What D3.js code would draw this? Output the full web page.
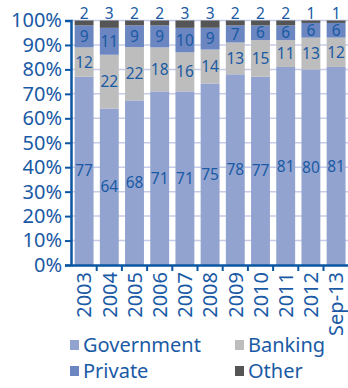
<!DOCTYPE html>
<html>
<head>
<meta charset="utf-8">
<script src="https://cdn.jsdelivr.net/npm/d3@7"></script>
<style>
  body { margin: 0; background: #fff; }
  svg text { font-family: "Noto Sans", "Open Sans", sans-serif; fill: #1a5aa5; }
</style>
</head>
<body>
<div id="chart"></div>
<script>
const years = ["2003", "2004", "2005", "2006", "2007", "2008", "2009", "2010", "2011", "2012", "Sep-13"]
const government = [77, 64, 68, 71, 71, 75, 78, 77, 81, 80, 81]
const banking = [12, 22, 22, 18, 16, 14, 13, 15, 11, 13, 12]
const privateSector = [9, 11, 9, 9, 10, 9, 7, 6, 6, 6, 6]
const other = [2, 3, 2, 2, 3, 3, 2, 2, 2, 1, 1]
const seriesNames = ["Government", "Banking", "Private", "Other"]
const yTicks = [0, 10, 20, 30, 40, 50, 60, 70, 80, 90, 100]

const width = 348
const height = 388
const colors = ["#93a3cf", "#bdbdbd", "#6b86c0", "#555555"]
const axisColor = "#0b56a3"

const data = years.map((y, i) => ({
  year: y,
  Government: government[i],
  Banking: banking[i],
  Private: privateSector[i],
  Other: other[i]
}))

const series = d3.stack()
  .keys(seriesNames)
  .offset(d3.stackOffsetExpand)(data)

const svg = d3.select("#chart")
  .append("svg")
  .attr("width", width)
  .attr("height", height)

const x = d3.scaleBand()
  .domain(years)
  .range([71.5, 348.7])
  .paddingInner(0.25)
  .paddingOuter(0.125)

const y = d3.scaleLinear()
  .domain([0, 1])
  .range([265, 20.5])

// gridlines
svg.append("g")
  .selectAll("line")
  .data(yTicks.slice(1))
  .join("line")
    .attr("x1", 71)
    .attr("x2", width)
    .attr("y1", d => y(d / 100))
    .attr("y2", d => y(d / 100))
    .attr("stroke", "#c6cce8")
    .attr("stroke-width", 1.5)

// bars
const layer = svg.append("g")
  .selectAll("g")
  .data(series)
  .join("g")
    .attr("fill", (d, i) => colors[i])

layer.selectAll("rect")
  .data(d => d)
  .join("rect")
    .attr("x", d => x(d.data.year))
    .attr("y", d => y(d[1]))
    .attr("width", x.bandwidth())
    .attr("height", d => y(d[0]) - y(d[1]))

// value labels
series.forEach((s, si) => {
  svg.append("g")
    .attr("text-anchor", "middle")
    .selectAll("text")
    .data(s)
    .join("text")
      .attr("x", d => x(d.data.year) + x.bandwidth() / 2)
      .attr("y", d => si === 3 ? y(1) - 2 : y((d[0] + d[1]) / 2))
      .attr("dy", si === 3 ? 0 : "0.36em")
      .style("font-size", "15.5px")
      .text(d => d.data[s.key])
})

// y axis
const yAxis = svg.append("g")
  .attr("transform", "translate(71,0)")
  .call(d3.axisLeft(y)
    .tickValues(yTicks.map(d => d / 100))
    .tickFormat(d => Math.round(d * 100) + "%")
    .tickSize(6)
    .tickPadding(3))
yAxis.select(".domain").attr("stroke", axisColor).attr("stroke-width", 2.5)
yAxis.selectAll(".tick line").attr("stroke", axisColor).attr("stroke-width", 2)
yAxis.selectAll(".tick text").style("font-size", "20px").attr("fill", null)

// x axis
const xAxis = svg.append("g")
  .attr("transform", "translate(0,265)")
  .call(d3.axisBottom(x).tickSize(0).tickSizeOuter(0))
xAxis.select(".domain").attr("stroke", axisColor).attr("stroke-width", 2.5)
xAxis.selectAll(".tick text")
  .style("font-size", "20px")
  .attr("fill", null)
  .attr("text-anchor", "end")
  .attr("transform", "rotate(-90)")
  .attr("x", -7)
  .attr("y", 0)
  .attr("dy", "0.36em")

// tick marks between bands
svg.append("g")
  .selectAll("line")
  .data(years.slice(1))
  .join("line")
    .attr("x1", d => x(d) - x.step() * x.paddingInner() / 2)
    .attr("x2", d => x(d) - x.step() * x.paddingInner() / 2)
    .attr("y1", 265)
    .attr("y2", 271)
    .attr("stroke", axisColor)
    .attr("stroke-width", 2)

// legend
const legend = svg.append("g")
  .selectAll("g")
  .data(seriesNames)
  .join("g")
    .attr("transform", (d, i) => `translate(${i % 2 ? 235 : 70},${i < 2 ? 345 : 371})`)

legend.append("rect")
  .attr("x", 0)
  .attr("y", -5)
  .attr("width", 9)
  .attr("height", 10)
  .attr("fill", (d, i) => colors[i])

legend.append("text")
  .attr("x", 13)
  .attr("y", 0)
  .attr("dy", "0.36em")
  .style("font-size", "20px")
  .text(d => d)
</script>
</body>
</html>
